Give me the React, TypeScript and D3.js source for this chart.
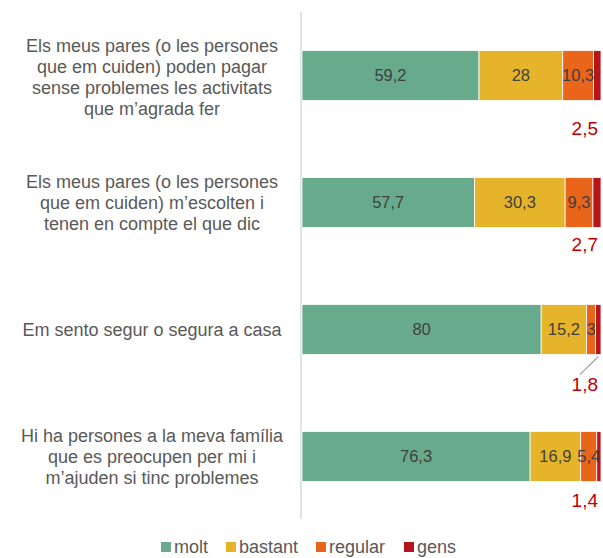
import React from "react";
import * as d3 from "d3";

const categories: string[][] = [
  ["Els meus pares (o les persones", "que em cuiden) poden pagar", "sense problemes les activitats", "que m’agrada fer"],
  ["Els meus pares (o les persones", "que em cuiden) m’escolten i", "tenen en compte el que dic"],
  ["Em sento segur o segura a casa"],
  ["Hi ha persones a la meva família", "que es preocupen per mi i", "m’ajuden si tinc problemes"],
];

const seriesNames = ["molt", "bastant", "regular", "gens"];
const molt = [59.2, 57.7, 80, 76.3];
const bastant = [28, 30.3, 15.2, 16.9];
const regular = [10.3, 9.3, 3, 5.4];
const gens = [2.5, 2.7, 1.8, 1.4];

const colors = ["#67ab8c", "#e6b42a", "#e8651a", "#b5151b"];

// vertical offset of the outside "gens" label below each bar
const gensLabelDy = [28, 17, 30, 19];
const gensLeader = [false, false, true, false];

const W = 603;
const H = 558;

const fmt = (v: number) => String(v).replace(".", ",");

export default function App() {
  const keys = categories.map((_, i) => String(i));
  const rows = keys.map((k, i) => ({
    key: k,
    molt: molt[i],
    bastant: bastant[i],
    regular: regular[i],
    gens: gens[i],
  }));
  const stacked = d3.stack<any>().keys(seriesNames)(rows);

  const x = d3.scaleLinear().domain([0, 100]).range([302, 601]);
  const y = d3
    .scaleBand<string>()
    .domain(keys)
    .range([12, 520])
    .paddingInner(0.606)
    .paddingOuter(0.303);
  const bw = y.bandwidth();

  const font = "'Liberation Sans', Arial, sans-serif";

  return (
    <svg
      width={W}
      height={H}
      style={{ position: "absolute", left: 0, top: 0, background: "#fff" }}
      fontFamily={font}
    >
      {/* category axis */}
      <line x1={301} x2={301} y1={12} y2={519} stroke="#d9d9d9" strokeWidth={1.5} />

      {/* category labels */}
      {categories.map((lines, i) => {
        const cy = (y(keys[i]) as number) + bw / 2;
        const lh = 21;
        const top = cy - ((lines.length - 1) * lh) / 2 + (lines.length === 4 ? 2 : 0);
        return (
          <text key={i} textAnchor="middle" fontSize={18} fill="#595959">
            {lines.map((ln, j) => (
              <tspan key={j} x={152} y={top + j * lh} dy="0.35em">
                {ln}
              </tspan>
            ))}
          </text>
        );
      })}

      {/* stacked bars */}
      {stacked.map((s, si) => (
        <g key={s.key} fill={colors[si]}>
          {s.map((d, i) => (
            <rect
              key={i}
              x={x(d[0])}
              y={y(keys[i])}
              width={x(d[1]) - x(d[0])}
              height={bw}
              stroke="#fff"
              strokeWidth={0.8}
            />
          ))}
        </g>
      ))}

      {/* inside value labels */}
      {stacked.slice(0, 3).map((s) =>
        s.map((d, i) => (
          <text
            key={s.key + i}
            x={(x(d[0]) + x(d[1])) / 2}
            y={(y(keys[i]) as number) + bw / 2}
            dy="0.35em"
            textAnchor="middle"
            fontSize={16.5}
            fill="#404040"
          >
            {fmt(+(d[1] - d[0]).toFixed(1))}
          </text>
        ))
      )}

      {/* outside labels for "gens" */}
      {stacked[3].map((d, i) => {
        const bottom = (y(keys[i]) as number) + bw;
        const ly = bottom + gensLabelDy[i];
        return (
          <g key={"g" + i}>
            {gensLeader[i] && (
              <line
                x1={x((d[0] + d[1]) / 2)}
                y1={bottom + 2}
                x2={580}
                y2={bottom + 20}
                stroke="#a6a6a6"
                strokeWidth={1.2}
              />
            )}
            <text x={598} y={ly} dy="0.35em" textAnchor="end" fontSize={19} fill="#c00000">
              {fmt(gens[i])}
            </text>
          </g>
        );
      })}

      {/* legend */}
      {seriesNames.map((n, i) => {
        const lx = [161, 226, 316, 404][i];
        return (
          <g key={n}>
            <rect x={lx} y={542} width={10} height={10} fill={colors[i]} />
            <text x={lx + 13} y={547} dy="0.35em" fontSize={18} fill="#595959">
              {n}
            </text>
          </g>
        );
      })}
    </svg>
  );
}
